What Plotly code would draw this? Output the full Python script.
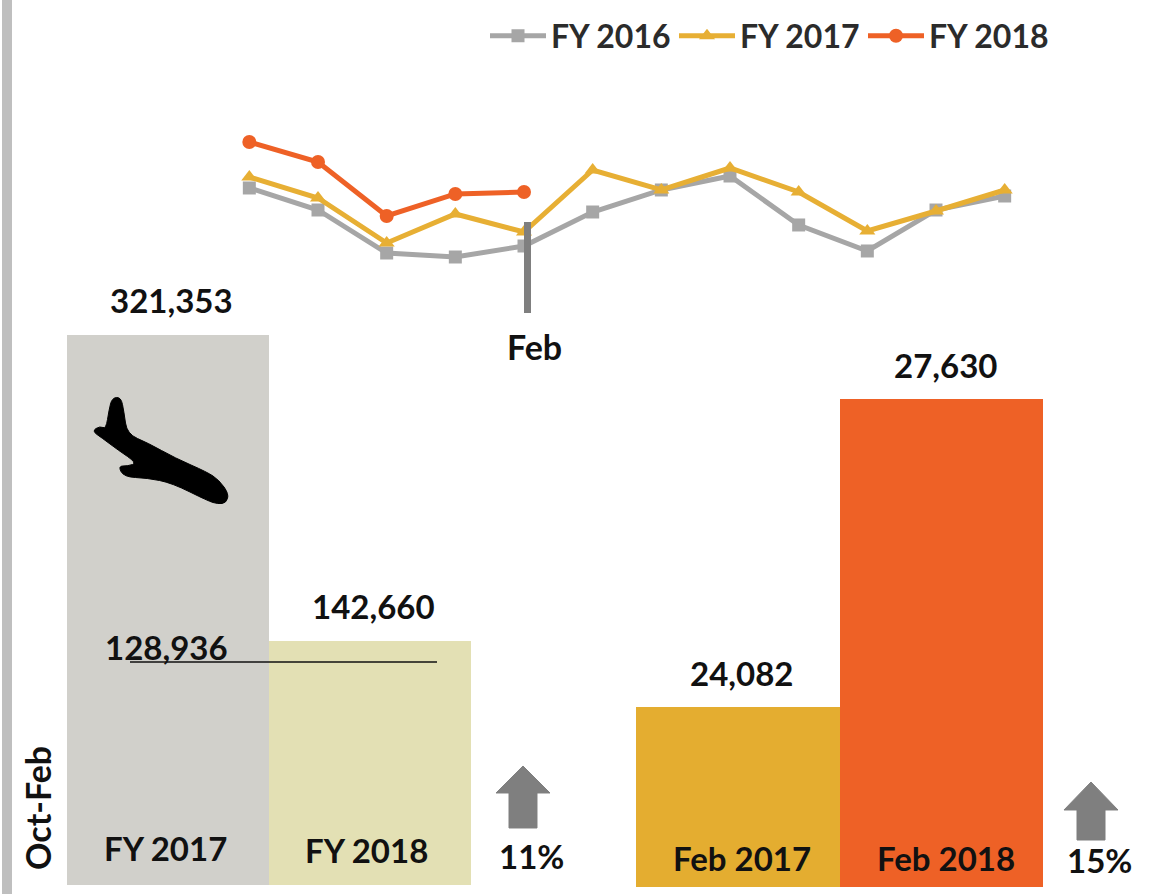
import plotly.graph_objects as go

W, H = 1161, 894
months = ["Oct","Nov","Dec","Jan","Feb","Mar","Apr","May","Jun","Jul","Aug","Sep"]
fy2016 = [27985,26033,22219,21864,22840,25856,27808,29049,24703,22397,26033,27275]
fy2017 = [28960,27098,23106,25679,24082,29581,27808,29758,27630,24171,25945,27808]
fy2018 = [32065,30291,25501,27453,27630]
ytd_cats = ["FY 2017","FY 2018"]
ytd_vals = [321353,142660]
ytd_prev = 128936
feb_cats = ["Feb 2017","Feb 2018"]
feb_vals = [24082,27630]

GREY, GOLD, ORANGE = "#A6A6A6", "#E7AF34", "#EE6126"
FONT = "Lato"
DARK = "#111111"

def px(x): return x / W
def py(y): return 1 - y / H
def dom_x(a, b): return [px(a), px(b)]
def dom_y(top, bot): return [py(bot), py(top)]

fig = go.Figure()
for name, vals, col, sym, size in [("FY 2016", fy2016, GREY, "square", 13),
                                   ("FY 2017", fy2017, GOLD, "triangle-up", 14),
                                   ("FY 2018", fy2018, ORANGE, "circle", 14)]:
    fig.add_trace(go.Scatter(x=months[:len(vals)], y=vals, name=name, mode="lines+markers",
                             line=dict(color=col, width=5), marker=dict(color=col, symbol=sym, size=size),
                             xaxis="x", yaxis="y"))

fig.add_trace(go.Bar(x=ytd_cats, y=ytd_vals, marker=dict(color=["#D1D0CB","#E3E0B4"], line_width=0),
                     showlegend=False, xaxis="x2", yaxis="y2"))
fig.add_trace(go.Bar(x=feb_cats, y=feb_vals, marker=dict(color=["#E4AD30", ORANGE], line_width=0),
                     showlegend=False, xaxis="x3", yaxis="y3"))

hidden = dict(visible=False, fixedrange=True)
fig.update_layout(
    width=W, height=H, margin=dict(l=0, r=0, t=0, b=0), autosize=False,
    paper_bgcolor="white", plot_bgcolor="rgba(0,0,0,0)", bargap=0,
    font=dict(family=FONT, color=DARK, size=33),
    xaxis=dict(domain=dom_x(215, 1039), type="category", categoryorder="array", categoryarray=months,
               range=[-0.5, 11.5], **hidden),
    yaxis=dict(domain=dom_y(100, 320), range=[16276, 35790], **hidden),
    xaxis2=dict(domain=dom_x(67, 471), type="category", range=[-0.5, 1.5], **hidden),
    yaxis2=dict(domain=dom_y(300, 885), range=[0, 341800], **hidden),
    xaxis3=dict(domain=dom_x(636, 1043), type="category", range=[-0.5, 1.5], **hidden),
    yaxis3=dict(domain=dom_y(300, 887), range=[22008, 28770], **hidden),
    legend=dict(orientation="h", x=px(1052), xanchor="right", y=py(36), yanchor="middle",
                font=dict(family=FONT, size=32, color="#2b2b2b", weight="bold"),
                itemwidth=56, tracegroupgap=0, bgcolor="rgba(0,0,0,0)", entrywidth=118, entrywidthmode="pixels"),
)

def note(text, x, y, xref="paper", yref="paper", size=33, yshift=0, xshift=0, angle=0):
    fig.add_annotation(text=f"<b>{text}</b>", x=x, y=y, xref=xref, yref=yref, yshift=yshift, xshift=xshift,
                       textangle=angle, showarrow=False, xanchor="center", yanchor="middle",
                       font=dict(family=FONT, size=size, color=DARK))

for c, v in zip(ytd_cats, ytd_vals):
    note(f"{v:,}", c, v, "x2", "y2", yshift=35, xshift=3)
for c, v in zip(feb_cats, feb_vals):
    note(f"{v:,}", c, v, "x3", "y3", yshift=34, xshift=4)
note(ytd_cats[0], 0, 0, "x2", "y2", yshift=37, xshift=-3)
note(ytd_cats[1], 1, 0, "x2", "y2", yshift=35, xshift=-4)
note(feb_cats[0], 0, 22008, "x3", "y3", yshift=29, xshift=4)
note(feb_cats[1], 1, 22008, "x3", "y3", yshift=29, xshift=5)
note(f"{ytd_prev:,}", px(166), py(647))
note("Feb", px(534), py(346), size=34)
note("11%", px(531), py(856))
note("15%", px(1099), py(860))
note("Oct-Feb", px(37), py(808), angle=-90, size=34)

def rect(x0, y0, x1, y1, col):
    fig.add_shape(type="rect", xref="paper", yref="paper", x0=px(x0), x1=px(x1), y0=py(y0), y1=py(y1),
                  fillcolor=col, line_width=0, layer="above")

def poly(pts, col):
    d = "M " + " L ".join(f"{px(a):.5f},{py(b):.5f}" for a, b in pts) + " Z"
    fig.add_shape(type="path", xref="paper", yref="paper", path=d, fillcolor=col,
                  line=dict(color=col, width=1), layer="above")

def blob(pts, col):
    # closed outline rounded through the midpoints of its corners
    mids = [((pts[i][0] + pts[(i + 1) % len(pts)][0]) / 2, (pts[i][1] + pts[(i + 1) % len(pts)][1]) / 2)
            for i in range(len(pts))]
    d = f"M {px(mids[-1][0]):.5f},{py(mids[-1][1]):.5f}"
    for i, p in enumerate(pts):
        d += f" Q {px(p[0]):.5f},{py(p[1]):.5f} {px(mids[i][0]):.5f},{py(mids[i][1]):.5f}"
    fig.add_shape(type="path", xref="paper", yref="paper", path=d + " Z", fillcolor=col,
                  line=dict(color=col, width=1), layer="above")

rect(2, 0, 12, H, "#BFBFBF")
rect(524, 222, 531, 313, "#7F7F7F")
fig.add_shape(type="line", xref="paper", yref="paper", x0=px(130), x1=px(437), y0=py(662), y1=py(662),
              line=dict(color="#111111", width=1.5), layer="above")

def arrow(cx, tip, base, bot, col="#7F7F7F"):
    poly([(cx, tip), (cx + 27, base), (cx + 14, base), (cx + 14, bot), (cx - 14, bot), (cx - 14, base), (cx - 27, base)], col)

arrow(523, 766, 793, 828)
arrow(1091, 782, 810, 840)

blob([(112,398),(121,397),(124,412),(127,434),(148,443),(175,458),(207,472),(219,480),(229,494),(226,503),(218,504),
      (208,501),(172,483),(147,478),(124,477),(118,466),(128,466),(137,463),(118,450),(102,438),(92,431),(100,426),
      (106,429),(109,410)], "#000000")

fig.write_html("out.html", config={"displayModeBar": False},
               post_script="document.body.style.margin='0';document.body.style.overflow='hidden';")
